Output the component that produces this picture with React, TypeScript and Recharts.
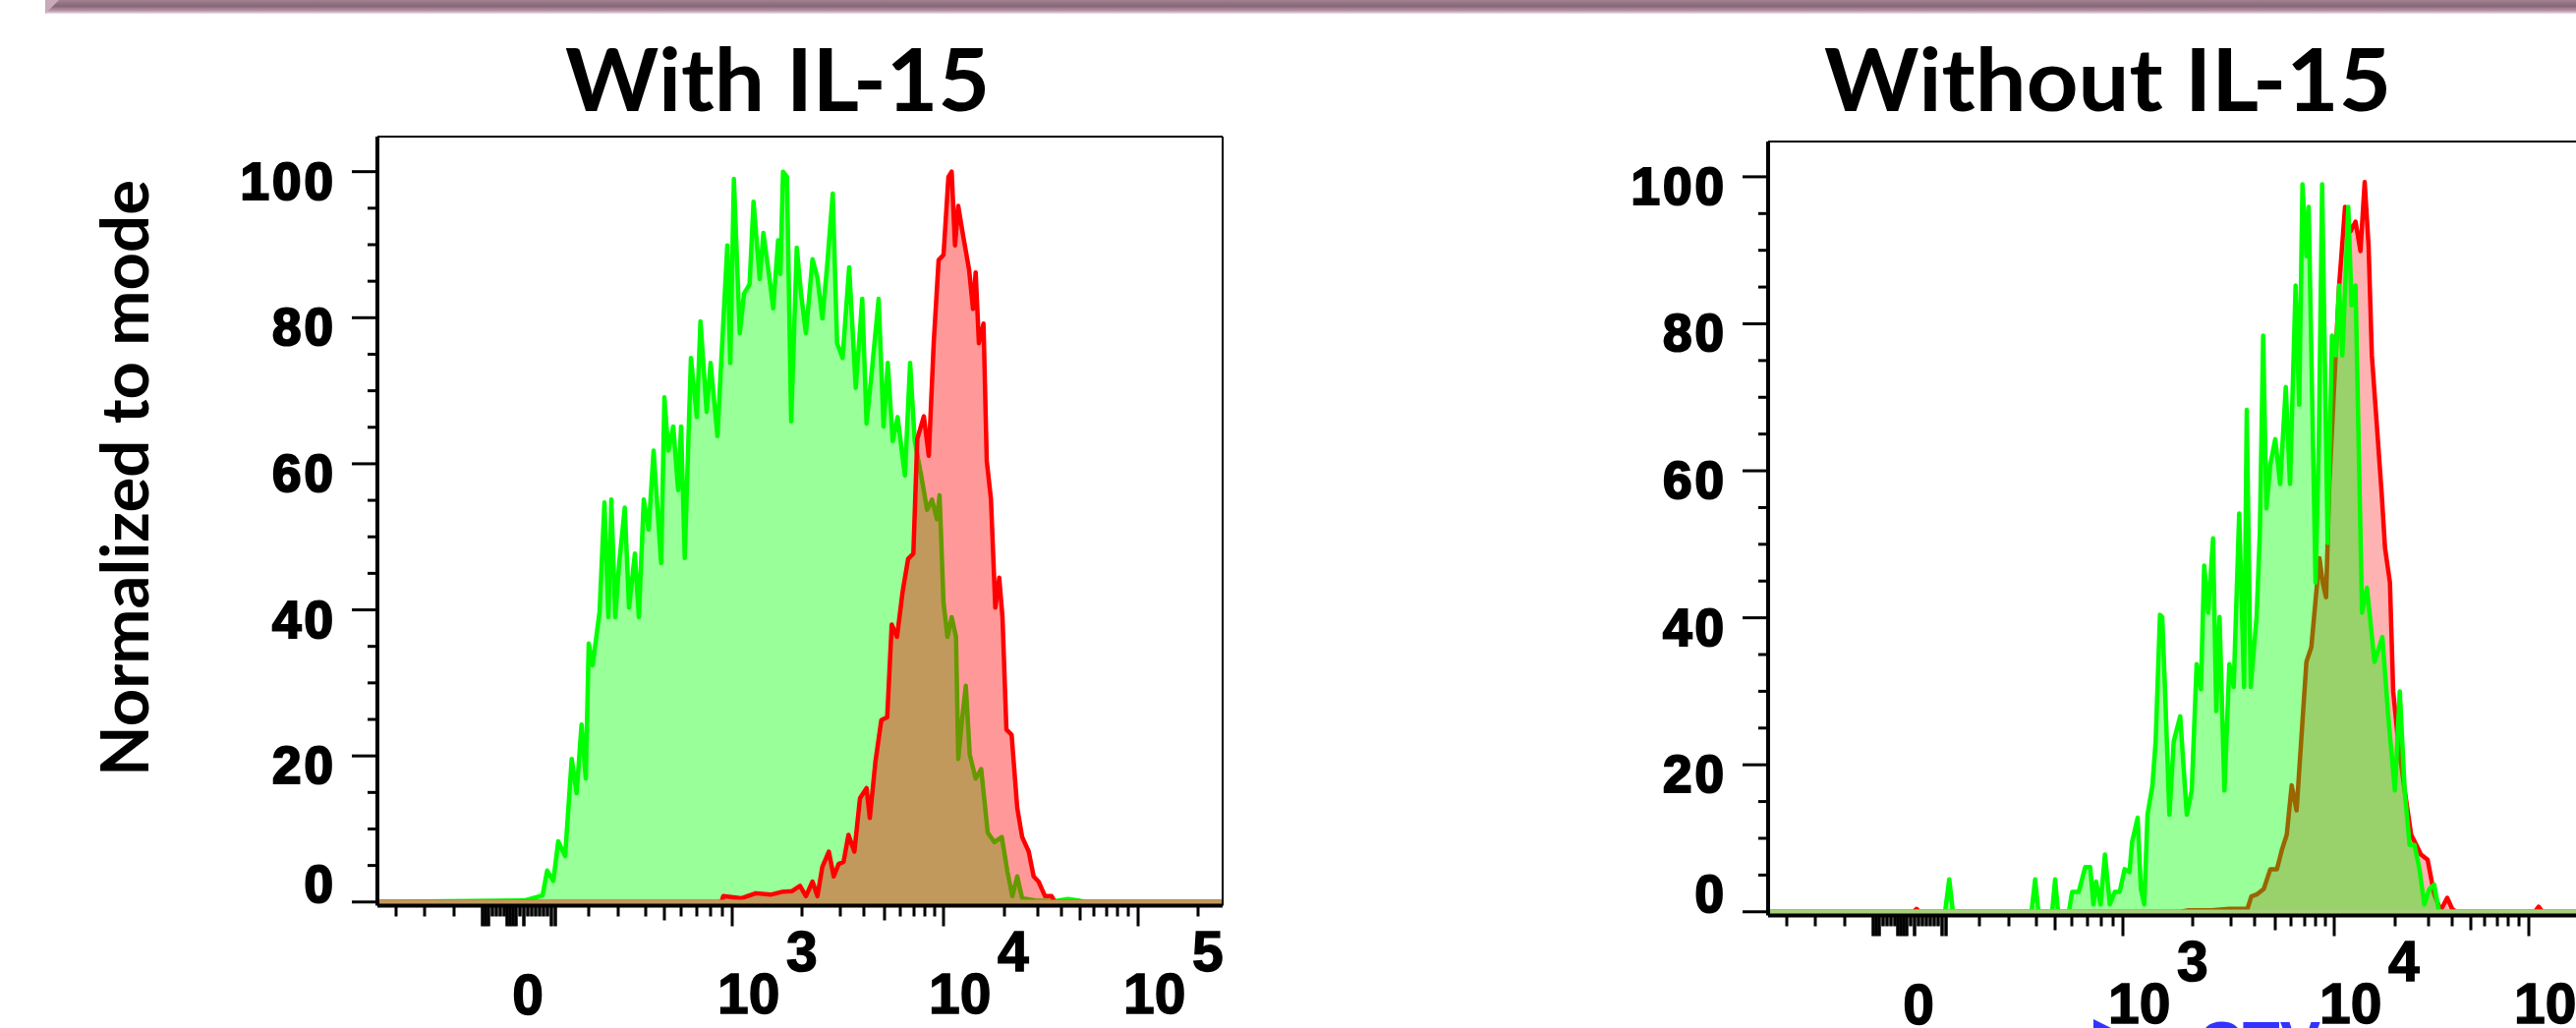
import React from "react";
import { ComposedChart, Area, XAxis, YAxis, ReferenceArea } from "recharts";

type Pt = [number, number];

// x = display channel on the biexponential axis (0..860), y = % of mode
const withGreen: Pt[] = [
  [0, 0], [149, 0.2], [168, 0.9], [172.7, 4.3], [179, 2.9], [184, 8.3], [191, 6.3], [197.7, 19.6],
  [202.7, 14.9], [207.7, 24.3], [212, 16.9], [215, 35.4], [219, 32.4], [226, 39.7], [231, 54.7],
  [235, 39], [238, 55.1], [242, 39], [246, 46.4], [251.7, 54], [256, 40.3], [262, 47.7], [266, 39],
  [271, 55.1], [276, 51], [281, 61.8], [288.7, 46.4], [292, 69.1], [296, 61.8], [301, 65.1],
  [306, 56.4], [309, 65.1], [312.7, 47.1], [319, 74.5], [325, 66.4], [328.7, 79.5], [335, 67.1],
  [339, 73.8], [346, 63.8], [349, 71.8], [356, 89.9], [359, 73.8], [362.7, 99], [368.7, 77.9],
  [373, 83.3], [378.7, 84.6], [382.7, 95.9], [389, 85.3], [392.7, 91.6], [399, 85.3], [402.7, 81.3],
  [407.7, 90.6], [410, 86], [412.7, 100], [416.7, 99.3], [421, 65.8], [426.7, 89.6], [431, 83.3],
  [436, 77.9], [442.7, 88], [447.7, 85.5], [452.7, 79.9], [457.7, 87.3], [463.3, 97], [467.7, 76.5],
  [473.3, 74.5], [480, 86.9], [486.7, 70.4], [493.3, 82.6], [497.7, 65.5], [502.7, 72.2], [510, 82.6],
  [515, 65.1], [519.3, 73.8], [524.3, 63.1], [529.3, 66.4], [536.7, 58.4], [542, 73.8], [546.7, 63.1],
  [553.3, 58.4], [559.3, 53.7], [564.3, 55.1], [569.3, 52.4], [572, 55.7], [576, 41], [580, 36.3],
  [584.3, 39], [588.7, 36.3], [591, 19.6], [594.3, 24.3], [598.7, 29.6], [602.7, 20.2], [608.7, 16.9],
  [614.3, 18.2], [621, 9.5], [627.7, 8.2], [635.3, 8.9], [641, 4.2], [646, 0.8], [651, 3.5], [656, 0.5],
  [669, 0.2], [689, 0.1], [702.7, 0.4], [712.7, 0.2], [720, 0], [860, 0],
];

const withRed: Pt[] = [
  [0, 0], [350, 0], [352, 0.8], [370, 0.5], [385, 1.2], [400, 1.0], [412, 1.4], [422, 1.5], [430, 2.2],
  [436, 0.8], [442.7, 2.8], [447.7, 0.8], [452.7, 4.8], [459.3, 6.9], [464.3, 3.5], [469.3, 5.2],
  [474.3, 5.5], [479.3, 9.2], [485.3, 6.9], [491, 14.2], [497.7, 15.6], [501, 11.5], [506.7, 19.2],
  [512.7, 24.9], [518.7, 25.3], [523.3, 38], [528.7, 36.3], [534.3, 42.4], [540, 47], [545.3, 47.7],
  [549.3, 63.4], [556, 66.5], [561, 61.1], [566, 76.5], [571, 87.9], [576, 88.6], [581, 99.3],
  [584.3, 100], [587.7, 89.9], [591, 95.3], [596, 91.2], [602, 86.6], [606, 81.2], [608.7, 86.2],
  [612, 76.5], [616.7, 79.2], [620, 60.4], [624.3, 55.1], [628.7, 40.3], [632.7, 44.4], [636, 39],
  [640, 23.6], [645.3, 22.9], [651, 12.9], [656, 8.9], [662.7, 6.9], [667.7, 3.5], [672.7, 2.8],
  [679.3, 0.8], [686, 0.8], [689.3, 0], [860, 0],
];

const withoutGreen: Pt[] = [
  [0, 0], [180, 0], [184.3, 4.4], [188, 0], [268, 0], [271.7, 4.4], [275, 0], [289, 0], [292, 4.4],
  [295, 0], [306, 0], [309.3, 2.7], [316, 2.7], [322.7, 6.1], [327.7, 6.1], [331, 1.0], [333.7, 4.1],
  [338.3, 1.0], [342.7, 7.8], [347.7, 1.0], [352.7, 2.7], [357.7, 2.7], [362.7, 5.8], [367.7, 5.4],
  [370.3, 9.5], [376, 12.8], [379.3, 3.1], [382.7, 1.0], [386, 13.2], [391, 17.2], [394.3, 23.2],
  [398.7, 40.4], [401, 40.1], [404.3, 28.6], [408.3, 13.2], [412.7, 23.2], [419.3, 26.6], [426, 13.2],
  [431, 16.5], [436, 33.7], [440.3, 30.3], [443.7, 47.1], [447.7, 40.7], [452.7, 50.8], [456, 27.3],
  [459.3, 40.1], [464.3, 16.5], [469.3, 33.7], [473.7, 30.6], [479.3, 54.2], [484.3, 30.6], [487, 68.3],
  [491, 30.6], [497, 40.1], [500.3, 51.5], [503.7, 78.4], [507, 54.9], [511, 60.9], [516, 64.3],
  [521, 58.2], [526.7, 71.4], [531, 58.2], [536.7, 85.2], [540.3, 69], [543.7, 99], [547.7, 89.2],
  [550, 95.9], [557, 44.8], [560.3, 63.6], [563.7, 99], [569.3, 50.2], [573.7, 78.4], [577.7, 75.7],
  [581, 85.2], [584.3, 75.7], [590.3, 95.9], [593.7, 82.5], [597.7, 85.2], [604.3, 40.7], [609.3, 44.1],
  [617, 34], [625, 37.4], [631, 26.6], [637.7, 16.5], [642.7, 30], [647.7, 16.5], [652.7, 9.1],
  [657.7, 9.1], [662.7, 5.8], [667.7, 1.0], [672.7, 3.1], [677.7, 3.7], [682.7, 0], [860, 0],
];

const withoutRed: Pt[] = [
  [0, 0], [148, 0], [151, 0.4], [154, 0], [420, 0], [427.7, 0.2], [451, 0.2], [469.3, 0.4],
  [487.7, 0.4], [491.7, 2.1], [497.7, 2.4], [504.3, 3.1], [511, 5.8], [517.7, 5.8], [522.7, 8.4],
  [527.7, 10.5], [532.7, 17.2], [537.7, 13.8], [542.7, 23.9], [547.7, 34], [552.7, 36], [557.7, 43.4],
  [561, 48.1], [564.3, 44.8], [567.7, 42.8], [571, 58.2], [576, 71.7], [581, 85.2], [587, 95.9],
  [592.7, 92.6], [597.7, 93.9], [602.7, 89.9], [607, 99.3], [611, 90.5], [614.3, 75.7], [619.3, 66.3],
  [624.3, 56.9], [627.7, 49.5], [632.7, 44.8], [636, 30], [641, 23.2], [647.7, 16.5], [654.3, 10.5],
  [664.3, 7.8], [671, 7.1], [677.7, 2.4], [684.3, 0.2], [691, 1.9], [696, 0.4], [700, 0], [780, 0],
  [784, 0.7], [788, 0], [860, 0],
];

const yMajorTicks = [0, 20, 40, 60, 80, 100];
const yMinorTicks = [5, 10, 15, 25, 30, 35, 45, 50, 55, 65, 70, 75, 85, 90, 95];

const xLabelPos = [149, 361, 576, 774];
const xLabelBase = ["0", "10", "10", "10"];
const xLabelExp = ["", "3", "4", "5"];
const xZeroTicks = [107, 110, 113, 117, 121, 125, 129, 132, 135, 138, 141, 145, 149, 153, 157, 161, 165, 169, 173, 177, 181];
const xLongZeroTicks = [107, 110, 113, 132, 135, 138, 141, 177, 181];
const xMinorTicks = [19, 48, 78, 215, 245, 273, 292, 309, 325, 339, 351, 432, 471, 495, 516, 532, 546,
  557, 567, 638, 672, 696, 715, 729, 742, 753, 764, 835];
const xMidTicks = [292, 516, 715];

const Y_DOMAIN: [number, number] = [-0.5, 104.8];
const X_DOMAIN: [number, number] = [0, 860];
const tickFont = "'Liberation Sans', Arial, sans-serif";

const yAllTicks = [...yMajorTicks, ...yMinorTicks].sort((a, b) => a - b);
const xAllTicks = [...new Set([...xZeroTicks, ...xMinorTicks, ...xLabelPos.slice(1)])].sort((a, b) => a - b);

function mergeSeries(green: Pt[], red: Pt[]) {
  const rows = new Map<number, { x: number; g?: number; r?: number }>();
  green.forEach(([x, v]) => {
    const row = rows.get(x) ?? { x };
    row.g = v;
    rows.set(x, row);
  });
  red.forEach(([x, v]) => {
    const row = rows.get(x) ?? { x };
    row.r = v;
    rows.set(x, row);
  });
  return [...rows.values()].sort((a, b) => a.x - b.x);
}

const YTick = (props: any) => {
  const { x, y, payload } = props;
  const v = payload.value;
  const major = yMajorTicks.includes(v);
  return (
    <g>
      <line x1={x - (major ? 26 : 10)} x2={x} y1={y} y2={y} stroke="#000" strokeWidth={3} />
      {major && (
        <text
          x={x - 42}
          y={v === 0 ? y : y + 28}
          textAnchor="end"
          fontFamily={tickFont}
          fontWeight="bold"
          fontSize={53}
          letterSpacing={3}
          fill="#000"
          stroke="#000"
          strokeWidth={2.2}
        >
          {v}
        </text>
      )}
    </g>
  );
};

const XTick = (props: any) => {
  const { x, y, payload } = props;
  const v = payload.value;
  const inZero = xZeroTicks.includes(v);
  let len = 11;
  if (xMidTicks.includes(v)) len = 15;
  if (xLabelPos.includes(v) || xLongZeroTicks.includes(v)) len = 21;
  const idx = xLabelPos.indexOf(v);
  return (
    <g>
      <line x1={x} x2={x} y1={y} y2={y + len} stroke="#000" strokeWidth={inZero ? 3.5 : 3} />
      {idx > 0 && (
        <text fontFamily={tickFont} fontWeight="bold" fontSize={57} fill="#000" stroke="#000" strokeWidth={1.4}>
          <tspan x={x - 15} y={y + 109}>{xLabelBase[idx]}</tspan>
          <tspan x={x + 55} y={y + 66}>{xLabelExp[idx]}</tspan>
        </text>
      )}
    </g>
  );
};

// the "0" label sits under the dense cluster of ticks around zero
const ZeroLabel = (props: any) => {
  const { x, y } = props;
  return (
    <text
      x={x + 4}
      y={y + 109}
      textAnchor="middle"
      fontFamily={tickFont}
      fontWeight="bold"
      fontSize={57}
      stroke="#000"
      strokeWidth={1.4}
    >
      {xLabelBase[0]}
    </text>
  );
};

function Histogram({
  green,
  red,
  redOnTop,
  redOpacity,
  stripColor,
  width,
  height,
  margin,
}: {
  green: Pt[];
  red: Pt[];
  redOnTop: boolean;
  redOpacity: number;
  stripColor: string;
  width: number;
  height: number;
  margin: { top: number; right: number; bottom: number; left: number };
}) {
  const data = mergeSeries(green, red);
  const greenArea = (
    <Area
      key="g"
      dataKey="g"
      type="linear"
      connectNulls
      stroke="#00ff00"
      strokeWidth={4.5}
      strokeLinejoin="round"
      fill="#00ff00"
      fillOpacity={0.4}
      baseValue="dataMin"
      dot={false}
      activeDot={false}
      isAnimationActive={false}
    />
  );
  const redArea = (
    <Area
      key="r"
      dataKey="r"
      type="linear"
      connectNulls
      stroke="#ff0000"
      strokeWidth={4.5}
      strokeLinejoin="round"
      fill="#ff0000"
      fillOpacity={redOpacity}
      baseValue="dataMin"
      dot={false}
      activeDot={false}
      isAnimationActive={false}
    />
  );
  return (
    <ComposedChart width={width} height={height} data={data} margin={margin}>
      <XAxis
        dataKey="x"
        type="number"
        domain={X_DOMAIN}
        allowDataOverflow
        ticks={xAllTicks}
        interval={0}
        tick={<XTick />}
        tickSize={0}
        tickMargin={0}
        tickLine={false}
        axisLine={{ stroke: "#000", strokeWidth: 4 }}
        height={1}
      />
      <XAxis
        xAxisId="zero"
        dataKey="x"
        type="number"
        domain={X_DOMAIN}
        ticks={[xLabelPos[0]]}
        interval={0}
        tick={<ZeroLabel />}
        tickSize={0}
        tickMargin={0}
        tickLine={false}
        axisLine={false}
        height={1}
      />
      <XAxis
        xAxisId="top"
        orientation="top"
        dataKey="x"
        type="number"
        domain={X_DOMAIN}
        tick={false}
        tickLine={false}
        axisLine={{ stroke: "#000", strokeWidth: 2 }}
        height={1}
      />
      <YAxis
        type="number"
        domain={Y_DOMAIN}
        allowDataOverflow
        ticks={yAllTicks}
        interval={0}
        tick={<YTick />}
        tickSize={0}
        tickMargin={0}
        tickLine={false}
        axisLine={{ stroke: "#000", strokeWidth: 4 }}
        width={1}
      />
      <YAxis
        yAxisId="right"
        orientation="right"
        type="number"
        domain={Y_DOMAIN}
        tick={false}
        tickLine={false}
        axisLine={{ stroke: "#000", strokeWidth: 2 }}
        width={1}
      />
      {redOnTop ? [greenArea, redArea] : [redArea, greenArea]}
      {/* empty channels: both fills overlap on the baseline, outlines hidden */}
      <ReferenceArea
        x1={X_DOMAIN[0]}
        x2={X_DOMAIN[1]}
        y1={Y_DOMAIN[0]}
        y2={0.3}
        fill={stripColor}
        fillOpacity={1}
        stroke="none"
        ifOverflow="hidden"
      />
    </ComposedChart>
  );
}

const titleFont = "Lato, 'Open Sans', sans-serif";

export default function App() {
  return (
    <div
      style={{
        position: "absolute",
        left: 0,
        top: 0,
        width: 2621,
        height: 1046,
        overflow: "hidden",
        background: "#fff",
      }}
    >
      <div style={{ position: "absolute", left: 0, top: 0 }}>
        <Histogram
          green={withGreen}
          red={withRed}
          redOnTop
          redOpacity={0.4}
          stripColor="#c2995c"
          width={1300}
          height={1046}
          margin={{ top: 138, left: 383, right: 55, bottom: 122.5 }}
        />
      </div>
      <div style={{ position: "absolute", left: 1300, top: 0, width: 1321, height: 1046, overflow: "hidden" }}>
        <Histogram
          green={withoutGreen}
          red={withoutRed}
          redOnTop={false}
          redOpacity={0.3}
          stripColor="#a6d07a"
          width={1400}
          height={1046}
          margin={{ top: 143, left: 498, right: 40, bottom: 112.5 }}
        />
      </div>
      <svg
        width={2621}
        height={1046}
        style={{ position: "absolute", left: 0, top: 0, pointerEvents: "none" }}
      >
        <defs>
          <linearGradient id="band" x1="0" y1="0" x2="0" y2="1">
            <stop offset="0" stopColor="#a08292" />
            <stop offset="0.45" stopColor="#866676" />
            <stop offset="0.8" stopColor="#bf98ae" />
            <stop offset="1" stopColor="#f3e6ee" />
          </linearGradient>
        </defs>
        <rect x={46} y={0} width={2575} height={14} fill="url(#band)" />
        <polygon points="46,14 60,0 46,0" fill="#c8aabb" />
        <text x={575} y={113} fontFamily={titleFont} fontWeight="bold" fontSize={88} textLength={432} lengthAdjust="spacingAndGlyphs">
          With IL-15
        </text>
        <text x={1856} y={113} fontFamily={titleFont} fontWeight="bold" fontSize={88} textLength={577} lengthAdjust="spacingAndGlyphs">
          Without IL-15
        </text>
        <text
          transform="rotate(-90)"
          x={-790}
          y={151}
          fontFamily={titleFont}
          fontWeight="bold"
          fontSize={66}
          textLength={607}
          lengthAdjust="spacingAndGlyphs"
        >
          Normalized to mode
        </text>
        <polygon points="2130,1037 2200,1072 2130,1107" fill="#3333ff" />
        <text x={2237} y={1082} fontFamily={tickFont} fontWeight="bold" fontSize={62} fill="#3333ff">
          CTV
        </text>
      </svg>
    </div>
  );
}
